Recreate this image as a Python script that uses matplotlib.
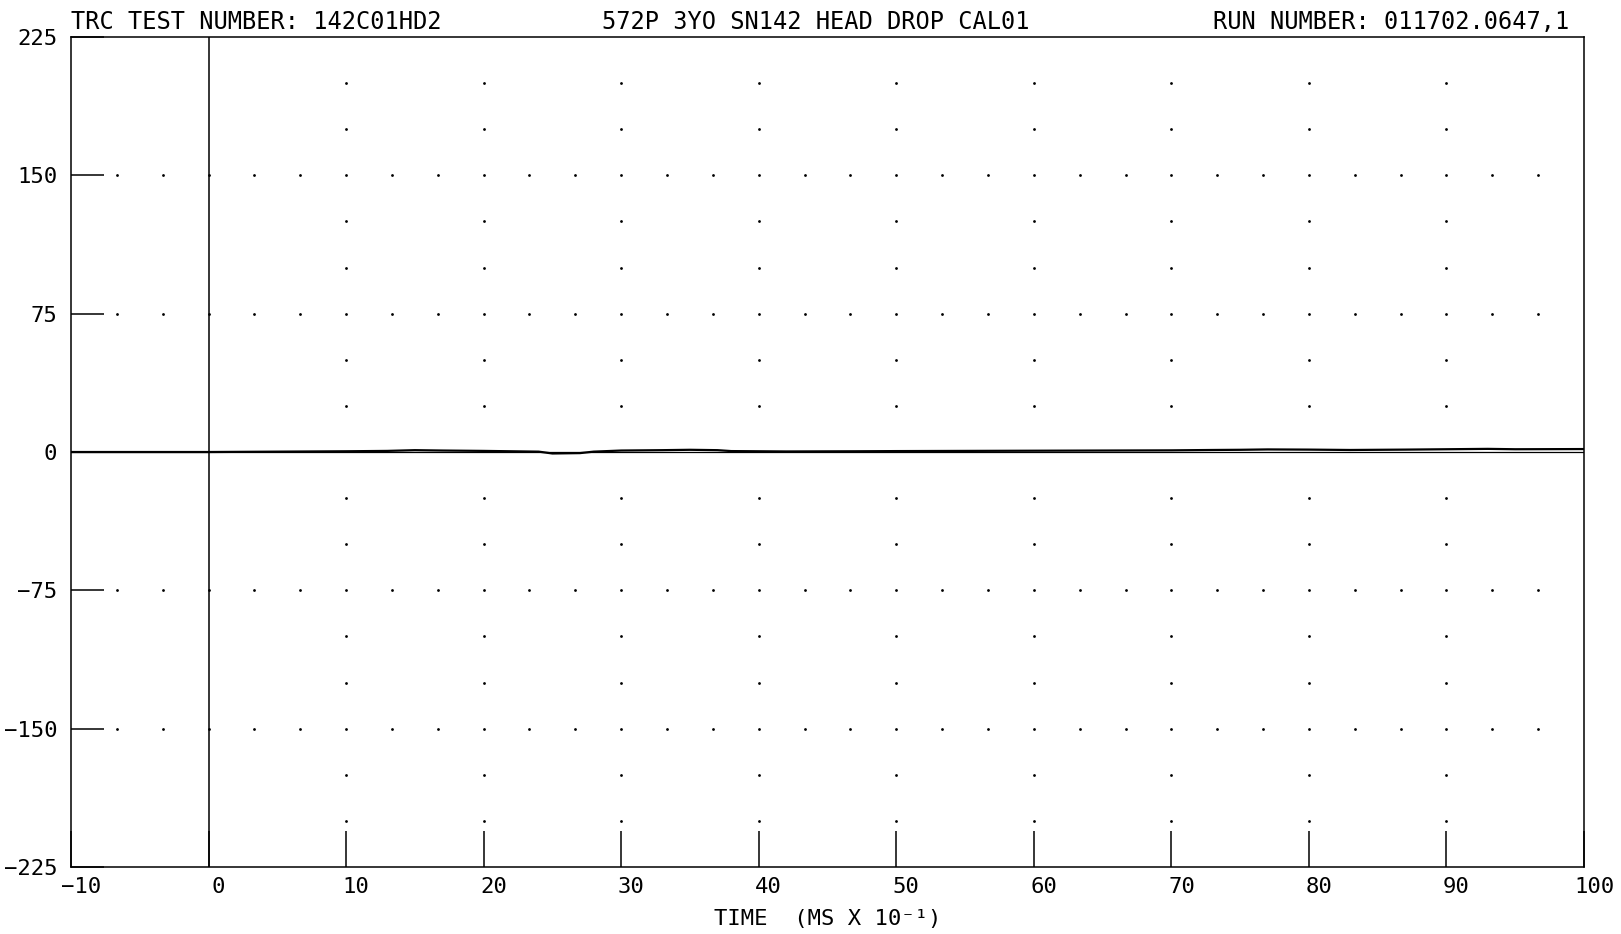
#imports
import matplotlib
matplotlib.use('Agg')
import matplotlib.pyplot as plt
import matplotlib.transforms as mtrans
import numpy as np

#datos
tiempo = [-10, -0.5, 0, 5, 10, 13, 15, 17, 20, 24, 25, 27, 28, 30, 33, 35, 37, 38,
          42, 47, 50, 55, 60, 65, 70, 73, 75, 77, 80, 83, 87, 90, 93, 95, 100]
valor = [0, 0, 0, 0.2, 0.4, 0.6, 1.0, 0.8, 0.6, 0.2, -0.8, -0.6, 0.2, 0.8, 1.0, 1.2, 1.0, 0.5,
         0.3, 0.4, 0.5, 0.6, 0.7, 0.8, 0.9, 1.1, 1.2, 1.4, 1.3, 1.1, 1.3, 1.5, 1.7, 1.5, 1.6]
xticks = [-10, 0, 10, 20, 30, 40, 50, 60, 70, 80, 90, 100]
yticks = [-225, -150, -75, 0, 75, 150, 225]
titulo_izq = 'TRC TEST NUMBER: 142C01HD2'
titulo_centro = '572P 3YO SN142 HEAD DROP CAL01'
titulo_der = 'RUN NUMBER: 011702.0647,1'
etiqueta_x = 'TIME  (MS X 10\u207b\u00b9)'

plt.rcParams['font.family'] = ['DejaVu Sans Mono']

fig = plt.figure(figsize=(16.21, 9.34), dpi=100)
ax = fig.add_axes([0.0438, 0.0717, 0.9334, 0.8887])
ax.set_xlim(-10, 100)
ax.set_ylim(-225, 225)

#puntos de la rejilla
cols = np.arange(10, 91, 10)
niveles = [y for y in range(-200, 201, 25) if y % 75 != 0]
cx, cy = np.meshgrid(cols, niveles)
ax.scatter(cx.ravel(), cy.ravel(), s=4, color='black', linewidths=0)
filas = [-150, -75, 75, 150]
fx = np.arange(-10 + 10/3, 100, 10/3)
rx, ry = np.meshgrid(fx, filas)
ax.scatter(rx.ravel(), ry.ravel(), s=4, color='black', linewidths=0)

#lineas de referencia y la senal
ax.axhline(0, color='black', lw=0.9)
ax.axvline(0, color='black', lw=1.1)
ax.plot(tiempo, valor, color='black', lw=1.6)

for s in ax.spines.values():
    s.set_linewidth(1.1)

ax.set_xticks(xticks)
ax.set_yticks(yticks)
ax.tick_params(axis='x', direction='in', length=26, width=1.1, pad=7, labelsize=16)
ax.tick_params(axis='y', direction='in', length=24, width=1.1, pad=10, labelsize=16)
desp = mtrans.ScaledTranslation(0.1, 0, fig.dpi_scale_trans)
for lab in ax.get_xticklabels():
    lab.set_transform(lab.get_transform() + desp)

ax.set_xlabel(etiqueta_x, fontsize=16, labelpad=9)
ax.text(0.0, 1.004, titulo_izq, transform=ax.transAxes, ha='left', va='bottom', fontsize=17)
ax.text(0.492, 1.004, titulo_centro, transform=ax.transAxes, ha='center', va='bottom', fontsize=17)
ax.text(0.99, 1.004, titulo_der, transform=ax.transAxes, ha='right', va='bottom', fontsize=17)

plt.savefig('out.png', dpi=100, facecolor='white')
